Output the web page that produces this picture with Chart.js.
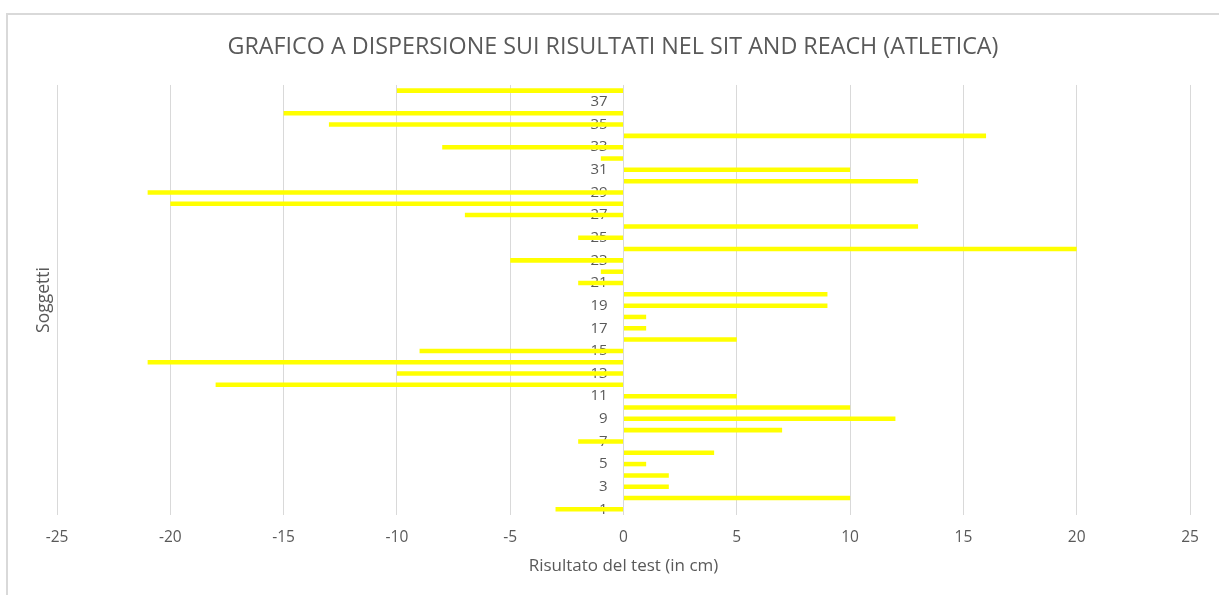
<!DOCTYPE html>
<html lang="it">
<head>
<meta charset="utf-8">
<title>Sit and Reach (Atletica)</title>
<script src="https://cdn.jsdelivr.net/npm/chart.js@4.4.1/dist/chart.umd.min.js"></script>
<style>
  html, body { margin: 0; padding: 0; background: #ffffff; }
  #wrap { position: relative; width: 1219px; height: 595px; overflow: hidden; }
  #frame {
    position: absolute; left: 6px; top: 13px; width: 1230px; height: 600px;
    border-top: 2px solid #d9d9d9; border-left: 2px solid #d9d9d9;
    box-sizing: border-box; pointer-events: none;
  }
  canvas { position: absolute; left: 0; top: 0; }
</style>
</head>
<body>
<div id="wrap">
  <canvas id="chart" width="1219" height="595"></canvas>
  <div id="frame"></div>
</div>
<script>
// Soggetti (categorie sull'asse verticale)
const soggetti = ['1','2','3','4','5','6','7','8','9','10','11','12','13','14','15','16','17','18','19',
                  '20','21','22','23','24','25','26','27','28','29','30','31','32','33','34','35','36','37','38'];

// Risultato del test sit and reach, in cm, per ciascun soggetto
const risultati = [-3, 10, 2, 2, 1, 4, -2, 7, 12, 10, 5, -18, -10, -21, -9, 5, 1, 1, 9, 9,
                   -2, -1, -5, 20, -2, 13, -7, -20, -21, 13, 10, -1, -8, 16, -13, -15, 0, -10];

// Valori dell'asse orizzontale
const tickX = [-25, -20, -15, -10, -5, 0, 5, 10, 15, 20, 25];

const titolo = 'GRAFICO A DISPERSIONE SUI RISULTATI NEL SIT AND REACH (ATLETICA)';
const titoloX = 'Risultato del test (in cm)';
const titoloY = 'Soggetti';

const grigioTesto = '#595959';
const grigioGriglia = '#d9d9d9';
const FONT = '"Open Sans", "DejaVu Sans", sans-serif';

// Asse vuoto usato solo per riservare spazio ai margini
const assePieno = (larghezza, extra) => Object.assign({
  type: 'category',
  afterFit: (s) => { s.width = larghezza; },
  grid: { display: false, drawTicks: false },
  border: { display: false },
  ticks: { display: false }
}, extra);

new Chart(document.getElementById('chart'), {
  type: 'bar',
  data: {
    labels: soggetti,
    datasets: [{
      label: 'Risultato',
      data: risultati,
      backgroundColor: '#FFFF00',
      borderWidth: 0,
      categoryPercentage: 1,
      barPercentage: 0.4,
      xAxisID: 'x',
      yAxisID: 'y'
    }]
  },
  options: {
    indexAxis: 'y',
    responsive: false,
    animation: false,
    devicePixelRatio: 1,
    layout: { padding: { left: 7, top: 14, right: 0, bottom: 0 } },
    plugins: {
      legend: { display: false },
      tooltip: { enabled: false },
      title: {
        display: true,
        text: titolo,
        color: grigioTesto,
        font: { family: FONT, size: 23.3, weight: 'normal' },
        padding: { top: 19, bottom: 24 }
      }
    },
    scales: {
      x: {
        type: 'linear',
        position: 'bottom',
        min: -25,
        max: 25,
        afterBuildTicks: (s) => { s.ticks = tickX.map(v => ({ value: v })); },
        afterFit: (s) => { s.height = 80; },
        grid: { color: grigioGriglia, lineWidth: 1, drawTicks: false },
        border: { display: false },
        ticks: {
          color: grigioTesto,
          padding: 13,
          font: { family: FONT, size: 15.5 }
        },
        title: {
          display: true,
          text: titoloX,
          color: grigioTesto,
          font: { family: FONT, size: 17 },
          padding: { top: 0, bottom: 19 }
        }
      },
      // Etichette dei soggetti accanto alla linea dello zero, sopra le barre
      y: {
        type: 'category',
        position: { x: -0.7 },
        reverse: true,
        z: 1,
        grid: { display: false, drawTicks: false },
        border: { display: false },
        ticks: {
          autoSkip: false,
          color: grigioTesto,
          padding: 0,
          font: { family: FONT, size: 15 },
          callback: (v, i) => (i % 2 === 0 ? soggetti[i] : '')
        }
      },
      yTitolo: assePieno(50, {
        position: 'left',
        title: {
          display: true,
          text: titoloY,
          color: grigioTesto,
          font: { family: FONT, size: 17.5 },
          padding: { top: 27, bottom: 0 }
        }
      }),
      yMargine: assePieno(29, { position: 'right' })
    }
  }
});
</script>
</body>
</html>
